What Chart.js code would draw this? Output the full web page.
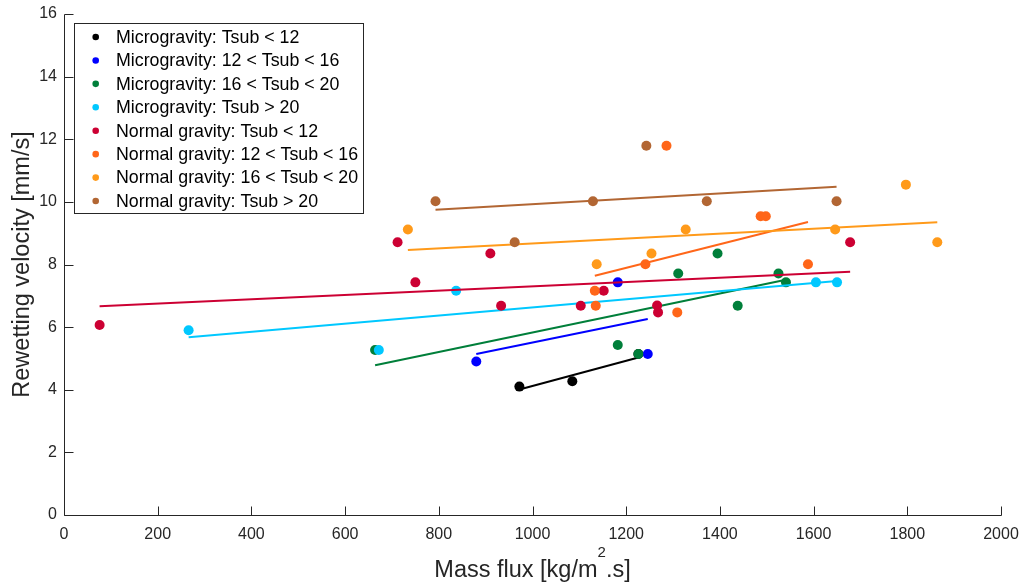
<!DOCTYPE html>
<html>
<head>
<meta charset="utf-8">
<script src="https://cdn.jsdelivr.net/npm/chart.js@4/dist/chart.umd.min.js"></script>
<style>
  body { margin: 0; background: #fff; }
</style>
</head>
<body>
<canvas id="grafico" width="1023" height="586"></canvas>
<script>
// mass flux [kg/m2.s] (X) and rewetting velocity [mm/s] (Y) for each group
var microT12X = [972, 1085, 1226];
var microT12Y = [4.10, 4.27, 5.14];
var microT16X = [880, 1182, 1246];
var microT16Y = [4.90, 7.43, 5.14];
var microT20X = [664, 1182, 1226, 1311, 1395, 1438, 1525, 1541];
var microT20Y = [5.27, 5.43, 5.14, 7.71, 8.35, 6.68, 7.71, 7.43];
var microT99X = [266, 672, 837, 1605, 1650];
var microT99Y = [5.90, 5.27, 7.16, 7.43, 7.43];
var normalT12X = [76, 712, 750, 910, 933, 1103, 1152, 1266, 1268, 1678];
var normalT12Y = [6.07, 8.71, 7.43, 8.35, 6.68, 6.68, 7.16, 6.69, 6.47, 8.71];
var normalT16X = [1133, 1135, 1241, 1286, 1309, 1487, 1498, 1588];
var normalT16Y = [7.16, 6.68, 8.01, 11.79, 6.47, 9.54, 9.54, 8.01];
var normalT20X = [734, 1137, 1254, 1327, 1646, 1797, 1864];
var normalT20Y = [9.12, 8.01, 8.35, 9.12, 9.12, 10.55, 8.71];
var normalT99X = [793, 962, 1129, 1243, 1372, 1649];
var normalT99Y = [10.02, 8.71, 10.02, 11.79, 10.02, 10.02];

// linear trend of each group, from first to last mass flux
var trendX0 = [972, 880, 664, 266, 76, 1133, 734, 793];
var trendY0 = [4.01, 5.14, 4.78, 5.68, 6.67, 7.64, 8.46, 9.75];
var trendX1 = [1226, 1246, 1541, 1650, 1678, 1588, 1864, 1649];
var trendY1 = [5.03, 6.26, 7.51, 7.47, 7.77, 9.36, 9.35, 10.48];

var grupos = [
    'Microgravity: Tsub < 12',
    'Microgravity: 12 < Tsub < 16',
    'Microgravity: 16 < Tsub < 20',
    'Microgravity: Tsub > 20',
    'Normal gravity: Tsub < 12',
    'Normal gravity: 12 < Tsub < 16',
    'Normal gravity: 16 < Tsub < 20',
    'Normal gravity: Tsub > 20'
];
var cores = ['#000000', '#0000ff', '#007f3a', '#00c8ff', '#cc0033', '#ff6619', '#ff9a1a', '#b26633'];

var xTicks = [0, 200, 400, 600, 800, 1000, 1200, 1400, 1600, 1800, 2000];
var yTicks = [0, 2, 4, 6, 8, 10, 12, 14, 16];

var pontosX = [microT12X, microT16X, microT20X, microT99X, normalT12X, normalT16X, normalT20X, normalT99X];
var pontosY = [microT12Y, microT16Y, microT20Y, microT99Y, normalT12Y, normalT16Y, normalT20Y, normalT99Y];

var fonte = '"Liberation Sans", Arial, Helvetica, sans-serif';
var cinza = '#262626';

var datasets = [];
var total = grupos.length * 2;
grupos.forEach(function (nome, i) {
    datasets.push({
        label: nome,
        data: pontosX[i].map(function (x, k) { return { x: x, y: pontosY[i][k] }; }),
        backgroundColor: cores[i],
        pointRadius: 5,
        pointBorderWidth: 0,
        showLine: false,
        order: total - datasets.length
    });
    datasets.push({
        label: nome + ' (trend)',
        data: [{ x: trendX0[i], y: trendY0[i] }, { x: trendX1[i], y: trendY1[i] }],
        borderColor: cores[i],
        borderWidth: 2,
        pointRadius: 0,
        showLine: true,
        fill: false,
        order: total - datasets.length
    });
});

// axis lines with inward ticks, left and bottom only
var eixos = {
    id: 'eixos',
    beforeDatasetsDraw: function (chart) {
        var ctx = chart.ctx, a = chart.chartArea;
        var sx = chart.scales.x, sy = chart.scales.y;
        var esq = Math.round(a.left) + 0.5, base = Math.round(a.bottom) + 0.5;
        ctx.save();
        ctx.strokeStyle = cinza;
        ctx.lineWidth = 1;
        ctx.beginPath();
        ctx.moveTo(esq, Math.round(a.top) + 0.5);
        ctx.lineTo(esq, base);
        ctx.lineTo(Math.round(a.right) + 0.5, base);
        xTicks.forEach(function (v) {
            var p = Math.round(sx.getPixelForValue(v)) + 0.5;
            ctx.moveTo(p, base);
            ctx.lineTo(p, base - 9);
        });
        yTicks.forEach(function (v) {
            var p = Math.round(sy.getPixelForValue(v)) + 0.5;
            ctx.moveTo(esq, p);
            ctx.lineTo(esq + 9, p);
        });
        ctx.stroke();
        ctx.restore();
    }
};

// boxed legend in the upper left corner and the x axis title with superscript
var legenda = {
    id: 'legenda',
    afterDraw: function (chart) {
        var ctx = chart.ctx, a = chart.chartArea;
        var bx = a.left + 10, by = a.top + 9, bw = 289, bh = 190;
        ctx.save();
        ctx.fillStyle = '#fff';
        ctx.fillRect(bx, by, bw, bh);
        ctx.strokeStyle = cinza;
        ctx.lineWidth = 1;
        ctx.strokeRect(Math.round(bx) + 0.5, Math.round(by) + 0.5, bw, bh);
        ctx.font = '17.8px ' + fonte;
        ctx.textBaseline = 'middle';
        grupos.forEach(function (nome, i) {
            var y = by + 14 + i * 23.43;
            ctx.fillStyle = cores[i];
            ctx.beginPath();
            ctx.arc(bx + 21.7, y, 3.3, 0, Math.PI * 2);
            ctx.fill();
            ctx.fillStyle = '#000';
            ctx.fillText(nome, bx + 42, y + 1);
        });

        var partes = [['Mass flux [kg/m', 23.5, 0], ['2', 15, -20], ['.s]', 23.5, 0]];
        var largura = 0;
        partes.forEach(function (p) {
            ctx.font = p[1] + 'px ' + fonte;
            p.push(ctx.measureText(p[0]).width);
            largura += p[3];
        });
        var x = (a.left + a.right) / 2 - largura / 2;
        var yb = 577;
        ctx.fillStyle = cinza;
        ctx.textBaseline = 'alphabetic';
        partes.forEach(function (p) {
            ctx.font = p[1] + 'px ' + fonte;
            ctx.fillText(p[0], x, yb + p[2]);
            x += p[3];
        });
        ctx.restore();
    }
};

var semVirgula = function (v) { return String(v); };

var ctx = document.getElementById('grafico').getContext('2d');
var myChart = new Chart(ctx, {
    type: 'scatter',
    data: { datasets: datasets },
    options: {
        responsive: false,
        animation: false,
        devicePixelRatio: 1,
        layout: { padding: { top: 14, right: 22, left: 0, bottom: 0 } },
        plugins: {
            legend: { display: false },
            tooltip: { enabled: false }
        },
        scales: {
            x: {
                type: 'linear',
                min: 0,
                max: 2000,
                afterBuildTicks: function (s) { s.ticks = xTicks.map(function (v) { return { value: v }; }); },
                afterFit: function (s) {
                    s.height = 71;
                    s.paddingLeft = 0;
                    s.paddingRight = 0;
                },
                grid: { display: false, drawTicks: false },
                border: { display: false },
                ticks: { color: cinza, padding: 10, maxRotation: 0, callback: semVirgula, font: { size: 16, family: fonte } }
            },
            y: {
                type: 'linear',
                min: 0,
                max: 16,
                afterBuildTicks: function (s) { s.ticks = yTicks.map(function (v) { return { value: v }; }); },
                afterFit: function (s) {
                    s.width = 64;
                    s.paddingTop = 0;
                    s.paddingBottom = 0;
                },
                grid: { display: false, drawTicks: false },
                border: { display: false },
                ticks: { color: cinza, padding: 7, callback: semVirgula, font: { size: 16, family: fonte } },
                title: {
                    display: true,
                    text: 'Rewetting velocity [mm/s]',
                    color: cinza,
                    padding: { top: 8, bottom: 0 },
                    font: { size: 23.5, family: fonte }
                }
            }
        }
    },
    plugins: [eixos, legenda]
});
</script>
</body>
</html>
